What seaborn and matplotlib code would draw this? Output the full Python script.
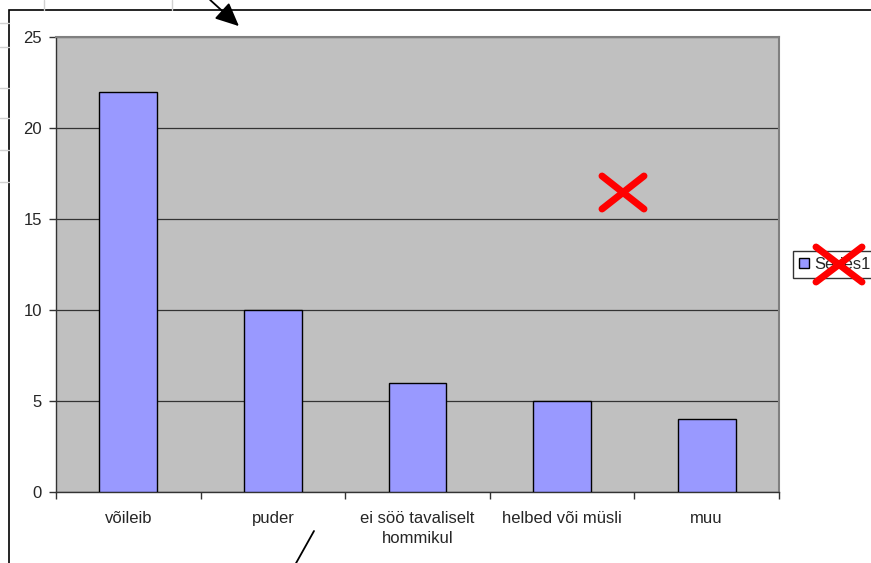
import matplotlib
matplotlib.use("Agg")
import matplotlib.pyplot as plt
from matplotlib.lines import Line2D
from matplotlib.patches import Rectangle, Patch
import seaborn as sns
import pandas as pd

# ---------------------------------------------------------------
# DATA
# ---------------------------------------------------------------
categories = ["võileib", "puder", "ei söö tavaliselt\nhommikul",
              "helbed või müsli", "muu"]
values = [22, 10, 6, 5, 4]
y_ticks = [0, 5, 10, 15, 20, 25]
series_name = "Series1"

df = pd.DataFrame({"cat": categories, "val": values})

W, H = 871, 563
BAR = "#9999FF"
PLOT_BG = "#C0C0C0"
FS = 12

sns.set_style("white")
plt.rcParams["font.family"] = ["Liberation Sans", "DejaVu Sans"]
plt.rcParams["font.size"] = FS


def fx(px):
    return px / W


def fy(py):
    return 1 - py / H


fig = plt.figure(figsize=(W / 100, H / 100), dpi=100)
fig.patch.set_facecolor("white")

# spreadsheet gridlines peeking out behind the chart object
for x in [44, 172]:
    fig.add_artist(Line2D([fx(x), fx(x)], [fy(0), fy(10)], color="#D0D0D0", lw=1))
for y in [23, 47, 88, 118, 150, 182]:
    fig.add_artist(Line2D([fx(0), fx(9)], [fy(y), fy(y)], color="#D0D0D0", lw=1))

# chart object frame
fig.add_artist(Rectangle((fx(9), fy(H + 5)), fx(W), fy(9.5) - fy(H + 5),
                         transform=fig.transFigure, facecolor="white",
                         edgecolor="black", lw=1.2, zorder=0.5))

ax = fig.add_axes([fx(56), fy(492), fx(779) - fx(56), fy(37) - fy(492)])
ax.set_facecolor(PLOT_BG)
ax.set_zorder(1)

sns.barplot(data=df, x="cat", y="val", color=BAR, edgecolor="black",
            linewidth=1, width=0.4, saturation=1, ax=ax, zorder=3)

ax.set_ylim(0, 25)
ax.set_xlim(-0.5, len(categories) - 0.5)
ax.set_yticks(y_ticks)
ax.yaxis.grid(True, color="#333333", lw=0.9)
ax.set_axisbelow(True)
ax.set_xlabel("")
ax.set_ylabel("")

ax.tick_params(axis="y", left=True, length=5, width=1, color="#333333",
               pad=5, labelsize=FS)
ax.tick_params(axis="x", bottom=False, pad=10, labelsize=FS)
for lbl in ax.get_xticklabels():
    lbl.set_linespacing(1.45)
ax.set_xticks([i - 0.5 for i in range(len(categories) + 1)], minor=True)
ax.tick_params(axis="x", which="minor", bottom=True, length=5, width=1,
               color="#333333")

for side in ["left", "bottom"]:
    ax.spines[side].set_color("#333333")
    ax.spines[side].set_linewidth(1)
for side in ["right", "top"]:
    ax.spines[side].set_color("#808080")
    ax.spines[side].set_linewidth(1.5)
    ax.spines[side].set_visible(True)

# legend at the right edge of the chart object
leg = fig.legend(handles=[Patch(facecolor=BAR, edgecolor="black", label=series_name)],
                 loc="upper left", bbox_to_anchor=(fx(793), fy(251)),
                 frameon=True, fancybox=False, handlelength=0.6, handleheight=0.6,
                 handletextpad=0.3, borderpad=0.35, borderaxespad=0, fontsize=FS)
leg.get_frame().set_edgecolor("black")
leg.get_frame().set_linewidth(1)
leg.set_zorder(5)

# red crosses
for x0, y0, x1, y1 in [(602, 176, 644, 209), (816, 247, 862, 282)]:
    fig.add_artist(Line2D([fx(x0), fx(x1)], [fy(y0), fy(y1)], color="red", lw=5, zorder=10))
    fig.add_artist(Line2D([fx(x0), fx(x1)], [fy(y1), fy(y0)], color="red", lw=5, zorder=10))

# annotation arrows drawn on the sheet
fig.add_artist(plt.Annotation("", xy=(fx(241), fy(28)), xytext=(fx(208), fy(-2)),
                              xycoords="figure fraction", textcoords="figure fraction",
                              arrowprops=dict(arrowstyle="-|>,head_length=1.2,head_width=0.55",
                                              color="black", lw=1.3)))
fig.add_artist(Line2D([fx(314), fx(295)], [fy(531), fy(565)], color="black", lw=1.3))

fig.savefig("out.png", dpi=100)
